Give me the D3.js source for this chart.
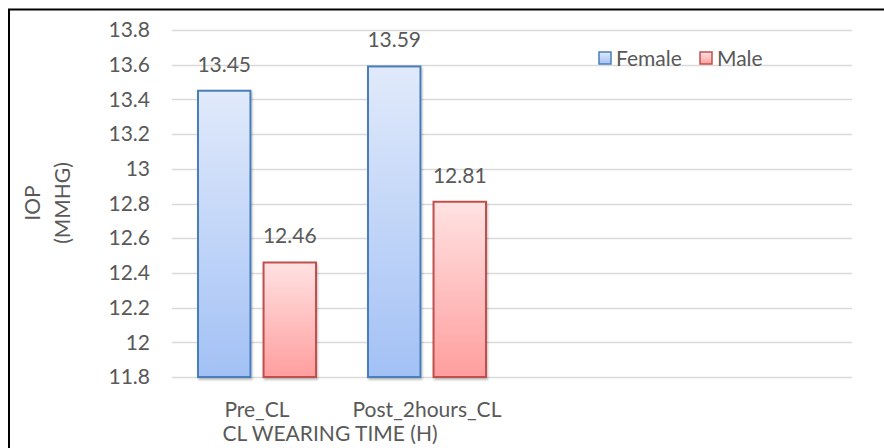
<!DOCTYPE html>
<html><head><meta charset="utf-8">
<script src="https://cdn.jsdelivr.net/npm/d3@7"></script>
<style>body{margin:0;background:#fff}svg text{font-family:Lato,"Open Sans",sans-serif;fill:#595959}</style>
</head><body><svg id="c" width="884" height="448"></svg>
<script>
const categories = ["Pre_CL", "Post_2hours_CL"];
const seriesNames = ["Female", "Male"];
const female = [13.45, 13.59];
const male = [12.46, 12.81];
const yTicks = [11.8, 12, 12.2, 12.4, 12.6, 12.8, 13, 13.2, 13.4, 13.6, 13.8];

const FS = 21;
const svg = d3.select("#c");
const defs = svg.append("defs");
const grads = [["gF", "#e1eafb", "#a3c1f5"], ["gM", "#ffe2e2", "#ff9e9e"]];
grads.forEach(([id, a, b]) => {
  const g = defs.append("linearGradient").attr("id", id).attr("x1", 0).attr("y1", 0).attr("x2", 0).attr("y2", 1);
  g.append("stop").attr("offset", "0%").attr("stop-color", a);
  g.append("stop").attr("offset", "100%").attr("stop-color", b);
});
const f = defs.append("filter").attr("id", "sh").attr("x", "-20%").attr("y", "-5%").attr("width", "140%").attr("height", "115%");
f.append("feDropShadow").attr("dx", 1).attr("dy", 2).attr("stdDeviation", 1.2).attr("flood-color", "#000").attr("flood-opacity", 0.25);

// frame
svg.append("line").attr("x1", 8).attr("x2", 884).attr("y1", 9.5).attr("y2", 9.5).attr("stroke", "#000").attr("stroke-width", 2);
svg.append("line").attr("x1", 9).attr("x2", 9).attr("y1", 9).attr("y2", 448).attr("stroke", "#000").attr("stroke-width", 2);

const y = d3.scaleLinear().domain([11.8, 13.8]).range([377, 30]);
const x0 = d3.scaleBand().domain(categories).range([172, 512]);
const x1 = d3.scaleBand().domain(seriesNames).range([26, 144]).paddingInner(0.2);

// gridlines
svg.append("g").selectAll("line").data(yTicks).join("line")
  .attr("x1", 172).attr("x2", 852)
  .attr("y1", d => Math.round(y(d)) + 0.5).attr("y2", d => Math.round(y(d)) + 0.5)
  .attr("stroke", "#d9d9d9").attr("stroke-width", 1.5);

// y axis labels
const yAxis = d3.axisLeft(y).tickValues(yTicks).tickSize(0).tickPadding(0).tickFormat(d => String(+d.toFixed(1)));
const ya = svg.append("g").attr("transform", "translate(150,0)").call(yAxis);
ya.select(".domain").remove();
ya.selectAll("text").attr("font-size", FS).attr("fill", "#595959").attr("font-family", "Lato");

// bars
const colors = {Female: {fill: "url(#gF)", stroke: "#4a7ebb"}, Male: {fill: "url(#gM)", stroke: "#c0504d"}};
const data = categories.flatMap((c, i) => [
  {cat: c, s: "Female", v: female[i]},
  {cat: c, s: "Male", v: male[i]}
]);
svg.append("g").selectAll("rect").data(data).join("rect")
  .attr("x", d => x0(d.cat) + x1(d.s))
  .attr("width", x1.bandwidth())
  .attr("y", d => y(d.v))
  .attr("height", d => y(11.8) - y(d.v))
  .attr("fill", d => colors[d.s].fill)
  .attr("stroke", d => colors[d.s].stroke)
  .attr("stroke-width", 2)
  .attr("filter", "url(#sh)");

// value labels
svg.append("g").selectAll("text").data(data).join("text")
  .attr("x", d => x0(d.cat) + x1(d.s) + x1.bandwidth() / 2)
  .attr("y", d => y(d.v) - 19)
  .attr("text-anchor", "middle")
  .attr("font-size", FS)
  .text(d => d.v.toFixed(2));

// x labels
svg.append("g").selectAll("text").data(categories).join("text")
  .attr("x", d => x0(d) + x0.bandwidth() / 2)
  .attr("y", 417)
  .attr("text-anchor", "middle")
  .attr("font-size", FS)
  .text(d => d);
svg.append("text").attr("x", 330).attr("y", 441).attr("text-anchor", "middle").attr("font-size", FS).text("CL WEARING TIME (H)");

// y title
const ytg = svg.append("g").attr("transform", "translate(40,203) rotate(-90)");
ytg.append("text").attr("x", 0).attr("y", 0).attr("text-anchor", "middle").attr("font-size", FS).text("IOP");
ytg.append("text").attr("x", 0).attr("y", 30).attr("text-anchor", "middle").attr("font-size", FS).text("(MMHG)");

// legend
const lg = svg.append("g").attr("transform", "translate(599,52)");
const lx = [0, 101];
seriesNames.forEach((s, i) => {
  const g = lg.append("g").attr("transform", `translate(${lx[i]},0)`);
  g.append("rect").attr("x", 0).attr("y", 0).attr("width", 12).attr("height", 12)
    .attr("fill", colors[s].fill).attr("stroke", colors[s].stroke).attr("stroke-width", 1.5);
  g.append("text").attr("x", 17).attr("y", 14).attr("font-size", FS).text(s);
});
</script></body></html>
